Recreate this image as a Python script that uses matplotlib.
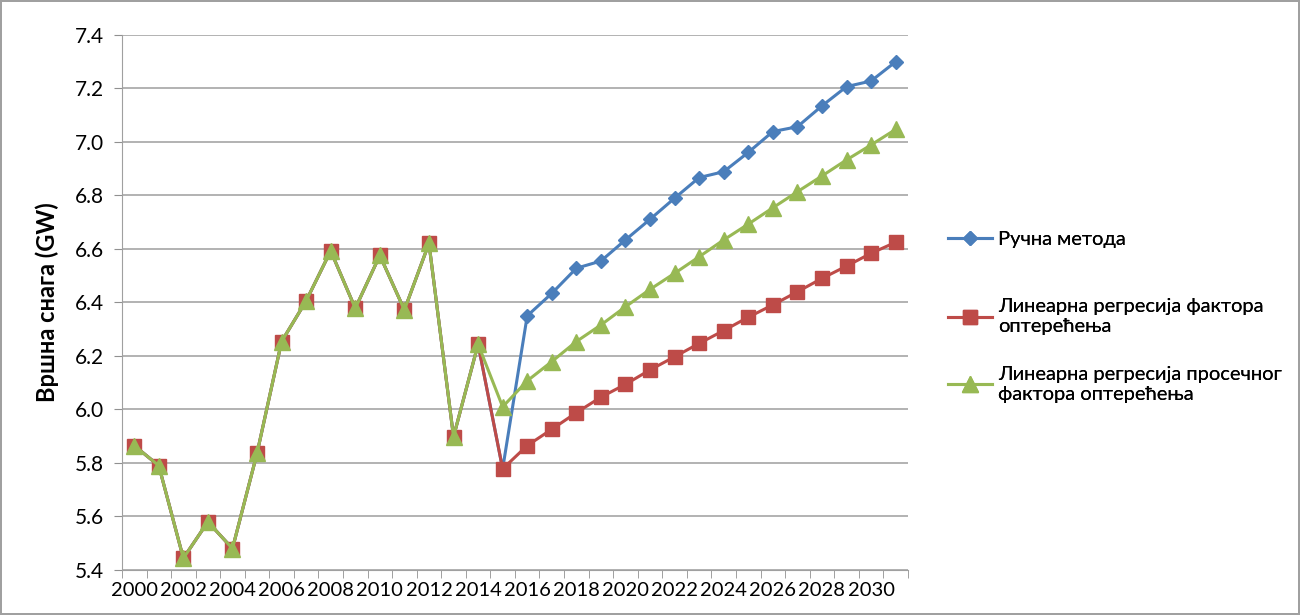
import matplotlib.pyplot as plt
import numpy as np

years = list(range(2000, 2032))

# historical values (shared by all series), 2000-2014
history = [5.865, 5.79, 5.444, 5.58, 5.48, 5.836, 6.254, 6.406, 6.593, 6.378,
           6.576, 6.372, 6.621, 5.898, 6.244]

manual = history + [5.778, 6.35, 6.434, 6.528, 6.555, 6.634, 6.711, 6.790, 6.867,
                    6.889, 6.961, 7.039, 7.057, 7.135, 7.207, 7.228, 7.30]
load_factor = history + [5.778, 5.865, 5.926, 5.988, 6.046, 6.094, 6.148, 6.197, 6.247,
                         6.295, 6.345, 6.391, 6.440, 6.490, 6.536, 6.584, 6.625]
avg_load_factor = history + [6.01, 6.107, 6.179, 6.254, 6.316, 6.384, 6.449, 6.509, 6.571,
                             6.634, 6.693, 6.754, 6.814, 6.873, 6.933, 6.989, 7.047]

labels = ["Ручна метода",
          "Линеарна регресија фактора\nоптерећења",
          "Линеарна регресија просечног\nфактора оптерећења"]

plt.rcParams['font.family'] = ['Lato', 'DejaVu Sans']

fig = plt.figure(figsize=(13, 6.15), dpi=100)
fig.patch.set_edgecolor('#a0a0a0')
fig.patch.set_linewidth(1.5)
ax = fig.add_axes([0.0938, 0.0732, 0.6046, 0.8699])

l1, = ax.plot(years, manual, color='#4A7EBB', lw=2.2, marker='D', ms=7.5,
              markeredgecolor='#4A7EBB', label=labels[0], zorder=3)
l2, = ax.plot(years, load_factor, color='#BE4B48', lw=2.2, marker='s', ms=10,
              markeredgecolor='#BE4B48', label=labels[1], zorder=4)
l3, = ax.plot(years, avg_load_factor, color='#98B954', lw=2.2, marker='^', ms=11,
              markeredgecolor='#98B954', label=labels[2], zorder=5)

ax.set_xlim(1999.5, 2031.5)
ax.set_ylim(5.4, 7.4)
ax.set_yticks(np.arange(5.4, 7.41, 0.2))
ax.yaxis.set_major_formatter(plt.FormatStrFormatter('%.1f'))
ax.set_xticks(years[::2])
ax.set_xticklabels([str(y) for y in years[::2]])
ax.set_xticks(np.arange(1999.5, 2032, 1), minor=True)
ax.tick_params(axis='x', which='major', length=0, labelsize=14.5, pad=9)
ax.tick_params(axis='x', which='minor', length=6, color='#909090')
ax.tick_params(axis='y', length=6, color='#909090', labelsize=15, pad=7)

ax.grid(axis='y', color='#a6a6a6', lw=1.2)
ax.set_axisbelow(True)
for s in ['top', 'right']:
    ax.spines[s].set_visible(False)
ax.spines['left'].set_color('#a0a0a0')
ax.spines['bottom'].set_color('#a0a0a0')

ax.set_ylabel("Вршна снага (GW)", fontsize=17, fontweight='bold', labelpad=11)

# legend entries placed like the original
legend_pos = [0.61, 0.485, 0.375]
for line, ypos in zip([l1, l2, l3], legend_pos):
    lg = fig.legend(handles=[line], loc='center left', bbox_to_anchor=(0.715, ypos),
                    frameon=False, fontsize=14.5, handlelength=2.2, handletextpad=0.3)
    ax.add_artist(lg)

fig.savefig("out.png", dpi=100)
